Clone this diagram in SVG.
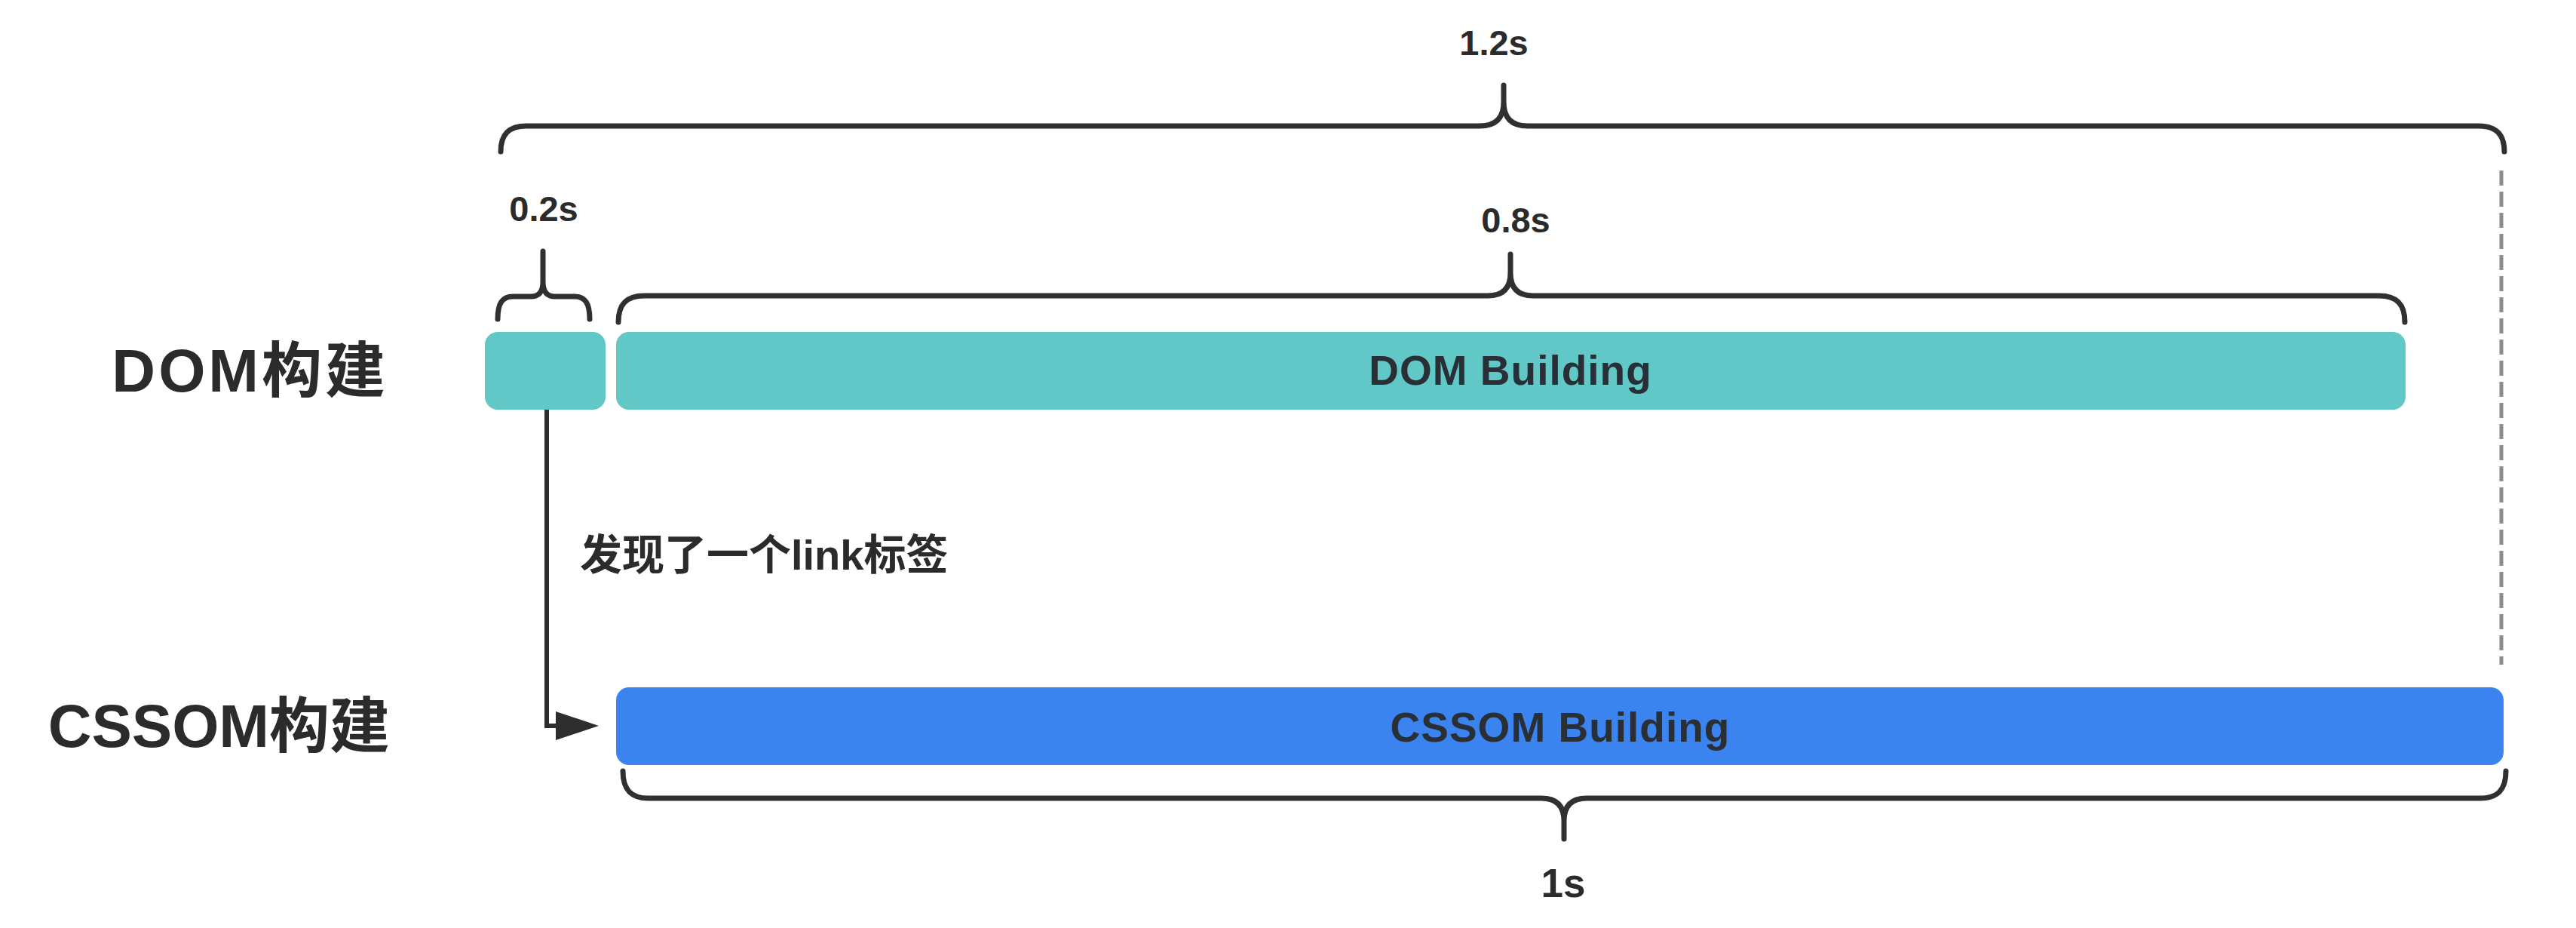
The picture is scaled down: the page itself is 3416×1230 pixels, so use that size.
<svg xmlns="http://www.w3.org/2000/svg" width="3416" height="1230" viewBox="0 0 3416 1230">
<style>
.bg{fill:#ffffff}
.teal{fill:#61C7C7}
.blue{fill:#3B83EE}
.brace{fill:none;stroke:#303030;stroke-width:7;stroke-linecap:round;stroke-linejoin:round}
.dash{fill:none;stroke:#8c8c8c;stroke-width:5;stroke-dasharray:20 8}
.conn{fill:none;stroke:#2e2e2e;stroke-width:6}
.dur{font-family:"Liberation Sans","Noto Sans",sans-serif;font-weight:bold;font-size:47px;fill:#2b2b2b;text-anchor:middle}
.row{font-family:"Liberation Sans","Noto Sans CJK SC",sans-serif;font-weight:bold;font-size:80px;fill:#2b2b2b;text-anchor:end}
.bar{font-family:"Liberation Sans","Noto Sans",sans-serif;font-weight:bold;font-size:55px;letter-spacing:1px;fill:#2a2f36;text-anchor:middle}
.note{font-family:"Liberation Sans","Noto Sans CJK SC",sans-serif;font-weight:bold;font-size:56px;fill:#2b2b2b}
</style>
<defs>
<marker id="arrow" markerUnits="userSpaceOnUse" markerWidth="60" markerHeight="40" refX="40" refY="20" orient="auto">
<path d="M0 1 L57 20 L0 39 Z" fill="#2e2e2e"/>
</marker>
</defs>
<rect class="bg" x="0" y="0" width="3416" height="1230"/>

<g id="braces">
<path class="brace" d="M664 201 C664 178 675 167 698 167 L1962 167 C1985 167 1994 155 1994 135 L1994 113 L1994 135 C1994 155 2003 167 2026 167 L3287 167 C3310 167 3321 178 3321 201"/>
<path class="brace" d="M660 423 C660 402 666 393 680 393 L704 393 C716 393 720 385 720 373 L720 333 L720 373 C720 385 724 393 736 393 L762 393 C776 393 782 402 782 423"/>
<path class="brace" d="M820 427 C820 404 830 392 854 392 L1973 392 C1995 392 2003 380 2003 362 L2003 337 L2003 362 C2003 380 2011 392 2033 392 L3155 392 C3179 392 3189 404 3189 427"/>
<path class="brace" d="M826 1022 C826 1046 836 1058 860 1058 L2044 1058 C2066 1058 2074 1070 2074 1088 L2074 1112 L2074 1088 C2074 1070 2082 1058 2104 1058 L3289 1058 C3313 1058 3323 1046 3323 1022"/>
<path class="dash" d="M3317 226 V881"/>
</g>

<g id="duration-labels">
<text class="dur" x="1981" y="73">1.2s</text>
<text class="dur" x="721" y="293">0.2s</text>
<text class="dur" x="2010" y="308">0.8s</text>
<text class="dur" x="2073" y="1189" style="font-size:53px">1s</text>
</g>

<g id="row-dom-label">
<text class="row" x="515" y="519" style="letter-spacing:4px">DOM构建</text>
</g>
<g id="row-cssom-label">
<text class="row" x="517" y="990">CSSOM构建</text>
</g>

<g id="node-dom-start">
<rect class="teal" x="643" y="440" width="160" height="103" rx="17"/>
</g>
<g id="node-dom-building">
<rect class="teal" x="817" y="440" width="2373" height="103" rx="17"/>
<text class="bar" x="2003" y="510">DOM Building</text>
</g>
<g id="node-cssom-building">
<rect class="blue" x="817" y="911" width="2503" height="103" rx="17"/>
<text class="bar" x="2069" y="983">CSSOM Building</text>
</g>

<g id="connectors">
<path class="conn" d="M725 543 V962 H777" marker-end="url(#arrow)"/>
<text class="note" x="769" y="755">发现了一个link标签</text>
</g>
</svg>
